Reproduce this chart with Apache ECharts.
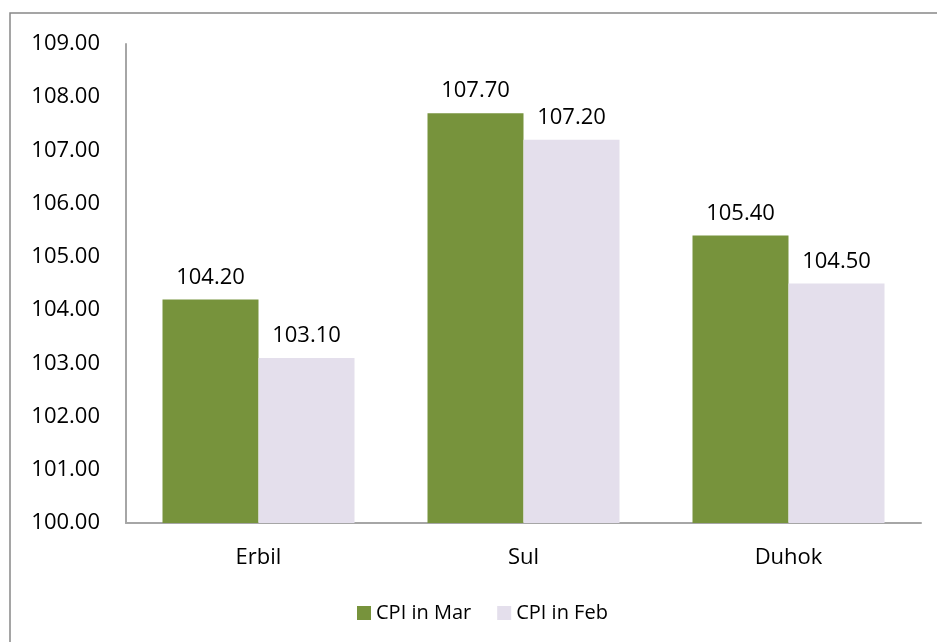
<!DOCTYPE html>
<html>
<head>
<meta charset="utf-8">
<script src="https://cdn.jsdelivr.net/npm/echarts@6/dist/echarts.min.js"></script>
<style>
  html, body { margin: 0; padding: 0; background: #fff; }
  #main { width: 937px; height: 642px; }
</style>
</head>
<body>
<div id="main"></div>
<script>
const categories = ['Erbil', 'Sul', 'Duhok'];
const cpiMar = [104.20, 107.70, 105.40];
const cpiFeb = [103.10, 107.20, 104.50];
const yTicks = { min: 100, max: 109, interval: 1 };

let myChart = echarts.init(document.getElementById('main'));
const font = 'Open Sans, sans-serif';

let labelStyle = {
	show: true,
	position: 'top',
	distance: 11,
	color: '#000',
	fontFamily: font,
	fontSize: 22,
	formatter: p => p.value.toFixed(2)
};

let option = {
	backgroundColor: '#fff',
	animation: false,
	graphic: [{
		type: 'rect',
		shape: { x: 10, y: 13, width: 1000, height: 700 },
		style: { fill: 'none', stroke: '#888', lineWidth: 1.5 },
		silent: true
	}],
	legend: {
		data: ['CPI in Mar', 'CPI in Feb'],
		bottom: 14,
		left: 352,
		itemWidth: 14,
		itemHeight: 14,
		itemGap: 26,
		icon: 'rect',
		textStyle: { fontFamily: font, fontSize: 20, color: '#000' }
	},
	grid: {
		left: 126,
		right: 16,
		top: 44,
		bottom: 119,
		containLabel: false
	},
	xAxis: [{
		type: 'category',
		data: categories,
		axisLine: { show: true, lineStyle: { color: '#a6a6a6', width: 2 } },
		axisTick: { show: false },
		axisLabel: { color: '#000', fontFamily: font, fontSize: 22, margin: 24 }
	}],
	yAxis: [{
		type: 'value',
		min: yTicks.min,
		max: yTicks.max,
		interval: yTicks.interval,
		axisLine: { show: true, lineStyle: { color: '#a6a6a6', width: 2 } },
		axisTick: { show: false },
		splitLine: { show: false },
		axisLabel: {
			color: '#000',
			fontFamily: font,
			fontSize: 22,
			margin: 26,
			formatter: v => v.toFixed(2)
		}
	}],
	series: [{
		name: 'CPI in Mar',
		type: 'bar',
		data: cpiMar,
		barWidth: 96,
		barGap: '0%',
		itemStyle: { color: '#77933c' },
		label: labelStyle
	}, {
		name: 'CPI in Feb',
		type: 'bar',
		data: cpiFeb,
		barWidth: 96,
		barGap: '0%',
		itemStyle: { color: '#e4dfec' },
		label: labelStyle
	}]
};

myChart.setOption(option);
</script>
</body>
</html>
